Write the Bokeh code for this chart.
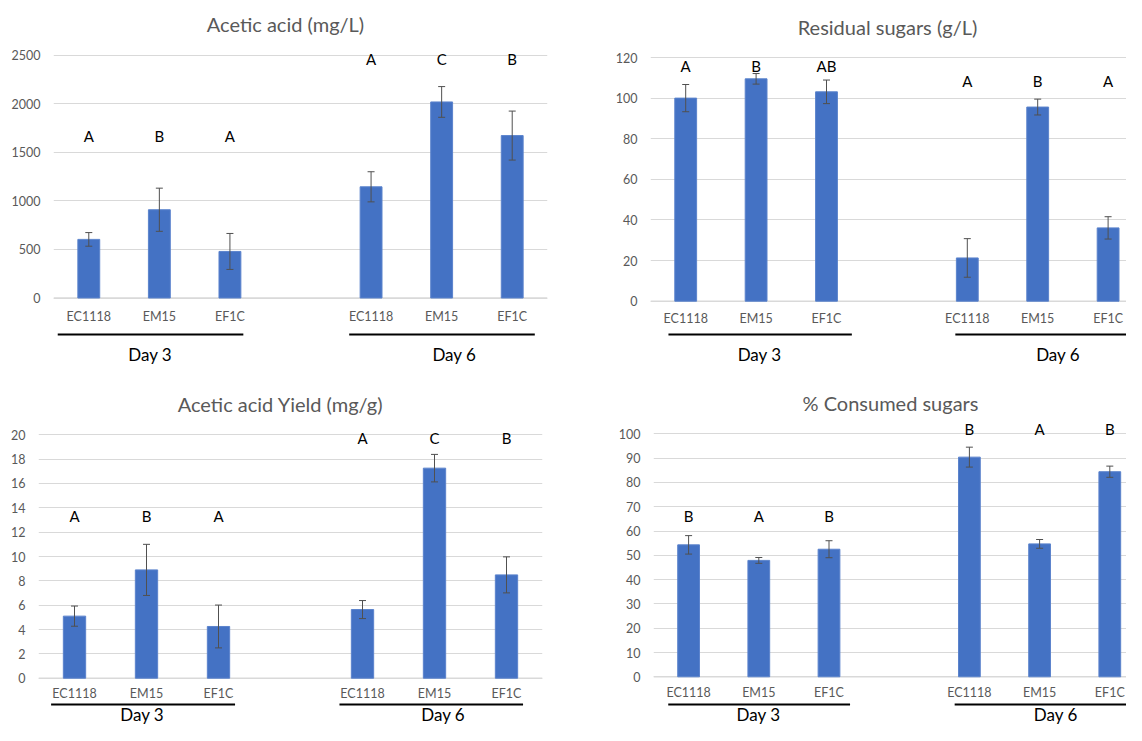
from bokeh.plotting import figure
from bokeh.models import Range1d, FixedTicker, ColumnDataSource, Whisker, TeeHead, Span
from bokeh.layouts import column, row
from bokeh.core.properties import value
from bokeh.embed import file_html
from bokeh.resources import INLINE

# ---------------- data ----------------
strains = ["EC1118", "EM15", "EF1C"]
days = ["Day 3", "Day 6"]

acetic_title = "Acetic acid (mg/L)"
acetic_d3 = [603, 908, 479]
acetic_d6 = [1144, 2017, 1671]
acetic_err_d3 = [70, 222, 185]
acetic_err_d6 = [155, 158, 252]
acetic_letters_d3 = ["A", "B", "A"]
acetic_letters_d6 = ["A", "C", "B"]
acetic_ticks = [0, 500, 1000, 1500, 2000, 2500]

sugar_title = "Residual sugars (g/L)"
sugar_d3 = [100.0, 109.5, 103.1]
sugar_d6 = [21.3, 95.6, 36.1]
sugar_err_d3 = [6.7, 2.6, 5.8]
sugar_err_d6 = [9.5, 3.9, 5.5]
sugar_letters_d3 = ["A", "B", "AB"]
sugar_letters_d6 = ["A", "B", "A"]
sugar_ticks = [0, 20, 40, 60, 80, 100, 120]

yield_title = "Acetic acid Yield (mg/g)"
yield_d3 = [5.10, 8.90, 4.25]
yield_d6 = [5.64, 17.26, 8.49]
yield_err_d3 = [0.83, 2.10, 1.76]
yield_err_d6 = [0.74, 1.13, 1.48]
yield_letters_d3 = ["A", "B", "A"]
yield_letters_d6 = ["A", "C", "B"]
yield_ticks = [0, 2, 4, 6, 8, 10, 12, 14, 16, 18, 20]

consumed_title = "% Consumed sugars"
consumed_d3 = [54.3, 47.9, 52.5]
consumed_d6 = [90.4, 54.7, 84.4]
consumed_err_d3 = [3.8, 1.2, 3.5]
consumed_err_d6 = [4.1, 1.8, 2.3]
consumed_letters_d3 = ["B", "A", "B"]
consumed_letters_d6 = ["B", "A", "B"]
consumed_ticks = [0, 10, 20, 30, 40, 50, 60, 70, 80, 90, 100]

# ---------------- styling / layout (pixels) ----------------
FONT = "Lato"
BAR = "#4472C4"
GRAY = "#595959"
ERR = "#505050"
GRID = "#D9D9D9"
GROUP_OFFSET = [0, 4]   # one empty slot between the two days

geo_tl = dict(fig_x=0, fig_y=0, fig_w=570, fig_h=380, frame_l=53, frame_r=547, slot=494 / 7,
              y0=297.5, ytop=54.5, title_x=285, title_y=23, cat_y=316, line_y=334, day_y=354,
              letters_y=(135, 58), uline=((-0.44, 2.19), (-0.31, 2.32)), day_dx=(0.87, 1.18))
geo_tr = dict(fig_x=570, fig_y=0, fig_w=556, fig_h=380, frame_l=650, frame_r=1126, slot=70.4,
              y0=300.7, ytop=57, title_x=887, title_y=26, cat_y=318, line_y=334, day_y=354,
              letters_y=(65, 80), uline=((-0.245, 2.36), (-0.17, 2.7)), day_dx=(1.05, 1.29))
geo_bl = dict(fig_x=0, fig_y=380, fig_w=570, fig_h=345, frame_l=38, frame_r=542, slot=72,
              y0=677.7, ytop=434.3, title_x=280, title_y=403, cat_y=693, line_y=704, day_y=714,
              letters_y=(515, 437), uline=((-0.325, 2.23), (-0.32, 2.23)), day_dx=(0.94, 1.12))
geo_br = dict(fig_x=570, fig_y=380, fig_w=556, fig_h=345, frame_l=653, frame_r=1126, slot=70.2,
              y0=676.3, ytop=433.3, title_x=890, title_y=402, cat_y=692, line_y=704, day_y=714,
              letters_y=(515, 428), uline=((-0.29, 2.30), (-0.21, 2.7)), day_dx=(0.995, 1.23))


def make_panel(title, d3, d6, e3, e6, l3, l6, yticks, geo):
    fw, fh = geo["fig_w"], geo["fig_h"]
    slot = geo["slot"]
    vmax = yticks[-1]
    upp = vmax / (geo["y0"] - geo["ytop"])

    def ydat(py):
        return (geo["y0"] - py) * upp

    def xdat(px):
        return (px - geo["frame_l"]) / slot

    p = figure(width=fw, height=fh, output_backend="svg", toolbar_location=None,
               x_range=Range1d(0, (geo["frame_r"] - geo["frame_l"]) / slot),
               y_range=Range1d(ydat(geo["fig_y"] + fh), ydat(geo["fig_y"])),
               x_axis_location=None,
               min_border_left=geo["frame_l"] - geo["fig_x"],
               min_border_right=geo["fig_x"] + fw - geo["frame_r"],
               min_border_top=0, min_border_bottom=0)
    p.outline_line_color = None
    p.background_fill_color = "white"
    p.border_fill_color = "white"

    ticker = FixedTicker(ticks=yticks)
    ax = p.yaxis[0]
    ax.ticker = ticker
    ax.axis_line_color = None
    ax.major_tick_line_color = None
    ax.minor_tick_line_color = None
    ax.major_tick_out = 0
    ax.major_tick_in = 0
    ax.major_label_standoff = 13
    ax.major_label_text_font = FONT
    ax.major_label_text_font_size = "12.5px"
    ax.major_label_text_color = GRAY
    p.ygrid.ticker = ticker
    p.ygrid.grid_line_color = GRID
    p.ygrid.grid_line_width = 1
    p.xgrid.visible = False
    p.add_layout(Span(location=0, dimension="width", line_color=GRID, line_width=1.5, level="underlay"))

    vals = list(d3) + list(d6)
    errs = list(e3) + list(e6)
    xs = [GROUP_OFFSET[g] + i + 0.5 for g in range(2) for i in range(len(strains))]
    src = ColumnDataSource(dict(x=xs, top=vals,
                                upper=[v + e for v, e in zip(vals, errs)],
                                lower=[v - e for v, e in zip(vals, errs)],
                                cat=strains * 2))
    p.vbar(x="x", top="top", bottom=0, width=0.31, source=src,
           fill_color=BAR, line_color="#5B83CC", line_width=1)
    p.add_layout(Whisker(source=src, base="x", upper="upper", lower="lower",
                         line_color=ERR, line_width=1, level="overlay",
                         upper_head=TeeHead(size=7, line_color=ERR, line_width=1),
                         lower_head=TeeHead(size=7, line_color=ERR, line_width=1)))

    # significance letters
    for g, letters in enumerate([l3, l6]):
        lx = [GROUP_OFFSET[g] + i + 0.5 for i in range(len(letters))]
        p.text(x=lx, y=[ydat(geo["letters_y"][g])] * len(letters), text=letters,
               text_align="center", text_baseline="middle",
               text_font=value(FONT), text_font_size="15px", text_color="black")

    # category labels
    p.text(x="x", y=ydat(geo["cat_y"]), text="cat", source=src,
           text_align="center", text_baseline="middle",
           text_font=value(FONT), text_font_size="12.5px", text_color=GRAY)

    # group underlines and day labels
    for g, day in enumerate(days):
        c0 = GROUP_OFFSET[g] + 0.5
        u0, u1 = geo["uline"][g]
        p.segment(x0=[c0 + u0], x1=[c0 + u1], y0=[ydat(geo["line_y"])], y1=[ydat(geo["line_y"])],
                  line_color="black", line_width=2)
        p.text(x=[c0 + geo["day_dx"][g]], y=[ydat(geo["day_y"])], text=[day],
               text_align="center", text_baseline="middle",
               text_font=value(FONT), text_font_size="17px", text_color="black")

    # chart title
    p.text(x=[xdat(geo["title_x"])], y=[ydat(geo["title_y"])], text=[title],
           text_align="center", text_baseline="middle",
           text_font=value(FONT), text_font_size="20px", text_color=GRAY)
    return p


f1 = make_panel(acetic_title, acetic_d3, acetic_d6, acetic_err_d3, acetic_err_d6,
                acetic_letters_d3, acetic_letters_d6, acetic_ticks, geo_tl)
f2 = make_panel(sugar_title, sugar_d3, sugar_d6, sugar_err_d3, sugar_err_d6,
                sugar_letters_d3, sugar_letters_d6, sugar_ticks, geo_tr)
f3 = make_panel(yield_title, yield_d3, yield_d6, yield_err_d3, yield_err_d6,
                yield_letters_d3, yield_letters_d6, yield_ticks, geo_bl)
f4 = make_panel(consumed_title, consumed_d3, consumed_d6, consumed_err_d3, consumed_err_d6,
                consumed_letters_d3, consumed_letters_d6, consumed_ticks, geo_br)

layout = column(row(f1, f2, spacing=0), row(f3, f4, spacing=0), spacing=0)
open("out.html", "w").write(file_html(layout, INLINE))
